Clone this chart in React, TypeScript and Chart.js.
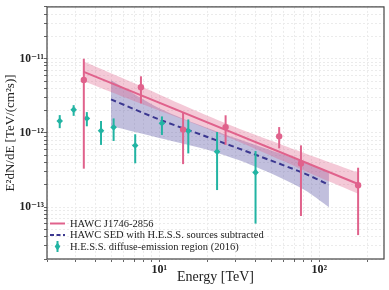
import { useEffect, useRef } from 'react';
import { Chart, registerables } from 'chart.js';

Chart.register(...registerables);

// HAWC J1746-2856 flux points (E in TeV, E^2 dN/dE in TeV cm^-2 s^-1)
const hawcE = [3.38, 7.69, 14.1, 26.0, 56.2, 76.9, 175];
const hawcFlux = [5.17e-12, 4.13e-12, 1.11e-12, 1.2e-12, 9.0e-13, 3.88e-13, 1.97e-13];
const hawcErrHigh = [1.0e-11, 5.8e-12, 1.87e-12, 1.73e-12, 1.2e-12, 6.8e-13, 3.4e-13];
const hawcErrLow = [3.3e-13, 2.5e-12, 3.8e-13, 6.9e-13, 6.2e-13, 7.6e-14, 4.2e-14];

// H.E.S.S. diffuse-emission region (2016)
const hessE = [2.39, 2.92, 3.53, 4.33, 5.19, 7.08, 10.4, 15.2, 23.0, 40.0];
const hessFlux = [1.45e-12, 2.05e-12, 1.57e-12, 1.07e-12, 1.19e-12, 6.76e-13, 1.35e-12, 1.06e-12, 5.6e-13, 2.94e-13];
const hessErrHigh = [1.74e-12, 2.37e-12, 1.91e-12, 1.45e-12, 1.57e-12, 9.6e-13, 1.67e-12, 1.52e-12, 1.03e-12, 5.7e-13];
const hessErrLow = [1.16e-12, 1.7e-12, 1.23e-12, 6.9e-13, 7.8e-13, 3.9e-13, 9.4e-13, 5.3e-13, 1.7e-13, 6.0e-14];

// HAWC fitted spectrum and its band
const hawcFitE = [3.38, 175];
const hawcFitFlux = [6.65e-12, 2.05e-13];
const hawcBandE = [3.38, 7, 15, 30, 60, 100, 175];
const hawcBandHigh = [9.2e-12, 4.67e-12, 2.23e-12, 1.19e-12, 6.78e-13, 4.53e-13, 2.92e-13];
const hawcBandLow = [4.97e-12, 2.68e-12, 1.45e-12, 7.98e-13, 4.14e-13, 2.52e-13, 1.52e-13];

// HAWC SED with H.E.S.S. sources subtracted
const subE = [5, 10, 20, 40, 80, 115];
const subFlux = [2.83e-12, 1.52e-12, 8.83e-13, 5.08e-13, 2.87e-13, 2.0e-13];
const subBandHigh = [5.13e-12, 2.16e-12, 1.17e-12, 6.9e-13, 4.09e-13, 3.01e-13];
const subBandLow = [1.24e-12, 8.57e-13, 5.92e-13, 3.51e-13, 1.73e-13, 1.0e-13];

// Axis ticks
const xTickValues = [2, 3, 4, 5, 6, 7, 8, 9, 10, 20, 30, 40, 50, 60, 70, 80, 90, 100, 200];
const xMajorValues = [10, 100];
const xMajorLabels = ['10¹', '10²'];
const yTickValues = [
  2e-14, 3e-14, 4e-14, 5e-14, 6e-14, 7e-14, 8e-14, 9e-14,
  1e-13, 2e-13, 3e-13, 4e-13, 5e-13, 6e-13, 7e-13, 8e-13, 9e-13,
  1e-12, 2e-12, 3e-12, 4e-12, 5e-12, 6e-12, 7e-12, 8e-12, 9e-12,
  1e-11, 2e-11, 3e-11, 4e-11, 5e-11,
];
const yMajorValues = [1e-13, 1e-12, 1e-11];
const yMajorLabels = ['10⁻¹³', '10⁻¹²', '10⁻¹¹'];

const legendLabels = [
  'HAWC J1746-2856',
  'HAWC SED with H.E.S.S. sources subtracted',
  'H.E.S.S. diffuse-emission region (2016)',
];

const PINK = '#e0628c';
const PINK_BAND = 'rgba(224,100,140,0.35)';
const NAVY = '#3b3790';
const PURPLE_BAND = 'rgba(100,95,170,0.4)';
const TEAL = '#22b4a3';
const SERIF = '"Liberation Serif", "DejaVu Serif", serif';

const pts = (xs: number[], ys: number[]) => xs.map((x, i) => ({ x, y: ys[i] }));

function labelFor(v: number, majors: number[], labels: string[]) {
  for (let i = 0; i < majors.length; i++) {
    if (Math.abs(v / majors[i] - 1) < 1e-6) return labels[i];
  }
  return '';
}

const errorBarPlugin = {
  id: 'errorBars',
  beforeDatasetDraw(chart: any, args: any) {
    const ds = chart.data.datasets[args.index];
    if (!ds.errHigh) return;
    const { ctx, scales } = chart;
    const xs = scales.x;
    const ys = scales.y;
    ctx.save();
    ctx.strokeStyle = ds.borderColor;
    ctx.lineWidth = 2;
    ds.data.forEach((p: any, i: number) => {
      const px = xs.getPixelForValue(p.x);
      ctx.beginPath();
      ctx.moveTo(px, ys.getPixelForValue(ds.errHigh[i]));
      ctx.lineTo(px, ys.getPixelForValue(ds.errLow[i]));
      ctx.stroke();
    });
    ctx.restore();
  },
};

const framePlugin = {
  id: 'frame',
  afterDatasetsDraw(chart: any) {
    const { ctx, chartArea: a } = chart;
    ctx.save();
    ctx.strokeStyle = '#444';
    ctx.lineWidth = 1.2;
    ctx.strokeRect(a.left, a.top, a.right - a.left, a.bottom - a.top);
    ctx.restore();
  },
};

const legendPlugin = {
  id: 'insideLegend',
  afterDraw(chart: any) {
    const { ctx, chartArea: a } = chart;
    const x0 = a.left + 3;
    const rows = [a.bottom - 35.5, a.bottom - 24, a.bottom - 12.5];
    ctx.save();
    ctx.strokeStyle = PINK;
    ctx.lineWidth = 2;
    ctx.beginPath();
    ctx.moveTo(x0, rows[0]);
    ctx.lineTo(x0 + 15, rows[0]);
    ctx.stroke();
    ctx.strokeStyle = NAVY;
    ctx.setLineDash([4, 2.5]);
    ctx.beginPath();
    ctx.moveTo(x0, rows[1]);
    ctx.lineTo(x0 + 15, rows[1]);
    ctx.stroke();
    ctx.setLineDash([]);
    const cx = x0 + 7.5;
    ctx.strokeStyle = TEAL;
    ctx.beginPath();
    ctx.moveTo(cx, rows[2] - 5.5);
    ctx.lineTo(cx, rows[2] + 5.5);
    ctx.stroke();
    ctx.fillStyle = TEAL;
    ctx.beginPath();
    ctx.moveTo(cx, rows[2] - 4);
    ctx.lineTo(cx + 2.8, rows[2]);
    ctx.lineTo(cx, rows[2] + 4);
    ctx.lineTo(cx - 2.8, rows[2]);
    ctx.closePath();
    ctx.fill();
    ctx.fillStyle = '#222';
    ctx.font = `10.5px ${SERIF}`;
    ctx.textBaseline = 'middle';
    ctx.textAlign = 'left';
    legendLabels.forEach((t, i) => ctx.fillText(t, x0 + 20, rows[i] + 0.5));
    ctx.restore();
  },
};

export default function App() {
  const ref = useRef<HTMLCanvasElement>(null);
  useEffect(() => {
    document.body.style.margin = '0';
    document.body.style.overflow = 'hidden';
    const canvas = ref.current!;
    const chart = new Chart(canvas, {
      type: 'line',
      data: {
        datasets: [
          {
            label: 'HAWC points',
            data: pts(hawcE, hawcFlux),
            showLine: false,
            borderColor: PINK,
            backgroundColor: PINK,
            pointRadius: 3.2,
            pointBorderWidth: 0,
            errHigh: hawcErrHigh,
            errLow: hawcErrLow,
          } as any,
          {
            label: 'HESS points',
            data: pts(hessE, hessFlux),
            showLine: false,
            borderColor: TEAL,
            backgroundColor: TEAL,
            pointStyle: 'rectRot',
            pointRadius: 3.3,
            pointBorderWidth: 0,
            errHigh: hessErrHigh,
            errLow: hessErrLow,
          } as any,
          {
            label: 'HAWC J1746-2856',
            data: pts(hawcFitE, hawcFitFlux),
            borderColor: PINK,
            borderWidth: 2,
            pointRadius: 0,
            fill: false,
          },
          {
            label: 'HAWC SED with H.E.S.S. sources subtracted',
            data: pts(subE, subFlux),
            borderColor: NAVY,
            borderWidth: 2,
            borderDash: [5.5, 3.5],
            pointRadius: 0,
            fill: false,
            tension: 0.3,
          },
          {
            label: 'hawcBandHigh',
            data: pts(hawcBandE, hawcBandHigh),
            borderWidth: 0,
            borderColor: 'rgba(0,0,0,0)',
            backgroundColor: PINK_BAND,
            pointRadius: 0,
            fill: '+1',
            tension: 0.3,
          },
          {
            label: 'hawcBandLow',
            data: pts(hawcBandE, hawcBandLow),
            borderWidth: 0,
            borderColor: 'rgba(0,0,0,0)',
            pointRadius: 0,
            fill: false,
            tension: 0.3,
          },
          {
            label: 'subBandHigh',
            data: pts(subE, subBandHigh),
            borderWidth: 0,
            borderColor: 'rgba(0,0,0,0)',
            backgroundColor: PURPLE_BAND,
            pointRadius: 0,
            fill: '+1',
            tension: 0.3,
          },
          {
            label: 'subBandLow',
            data: pts(subE, subBandLow),
            borderWidth: 0,
            borderColor: 'rgba(0,0,0,0)',
            pointRadius: 0,
            fill: false,
            tension: 0.3,
          },
        ],
      },
      options: {
        responsive: false,
        animation: false,
        events: [],
        layout: { padding: { top: 5, right: 5, left: 0, bottom: 0 } },
        plugins: {
          legend: { display: false },
          tooltip: { enabled: false },
        },
        scales: {
          x: {
            type: 'logarithmic',
            min: 1.99,
            max: 254,
            afterFit: (s: any) => { s.height = 31; },
            afterBuildTicks: (s: any) => { s.ticks = xTickValues.map((v) => ({ value: v })); },
            ticks: {
              autoSkip: false,
              maxRotation: 0,
              padding: 1,
              color: '#222',
              font: { family: SERIF, size: 12, weight: 'bold' },
              callback: (v: any) => labelFor(Number(v), xMajorValues, xMajorLabels),
            },
            grid: { color: '#ebebeb', lineWidth: 1, tickLength: 3, tickColor: '#666', drawTicks: true },
            border: { display: false, dash: [2, 2] },
            title: {
              display: true,
              text: 'Energy [TeV]',
              color: '#222',
              font: { family: SERIF, size: 14 },
              padding: { top: 0, bottom: 4 },
            },
          },
          y: {
            type: 'logarithmic',
            min: 2.0e-14,
            max: 5.0e-11,
            afterFit: (s: any) => { s.width = 47; },
            afterBuildTicks: (s: any) => { s.ticks = yTickValues.map((v) => ({ value: v })); },
            ticks: {
              autoSkip: false,
              padding: 0,
              color: '#222',
              font: { family: SERIF, size: 11.5, weight: 'bold' },
              callback: (v: any) => labelFor(Number(v), yMajorValues, yMajorLabels),
            },
            grid: { color: '#ebebeb', lineWidth: 1, tickLength: 3, tickColor: '#666', drawTicks: true },
            border: { display: false, dash: [2, 2] },
            title: {
              display: true,
              text: 'E²dN/dE [TeV/(cm²s)]',
              color: '#222',
              font: { family: SERIF, size: 13 },
              padding: { top: 3, bottom: 0 },
            },
          },
        },
      } as any,
      plugins: [errorBarPlugin, framePlugin, legendPlugin],
    });
    return () => chart.destroy();
  }, []);
  return (
    <div style={{ width: 389, height: 290, position: 'relative' }}>
      <canvas ref={ref} width={389} height={290} style={{ width: 389, height: 290, display: 'block' }} />
    </div>
  );
}
